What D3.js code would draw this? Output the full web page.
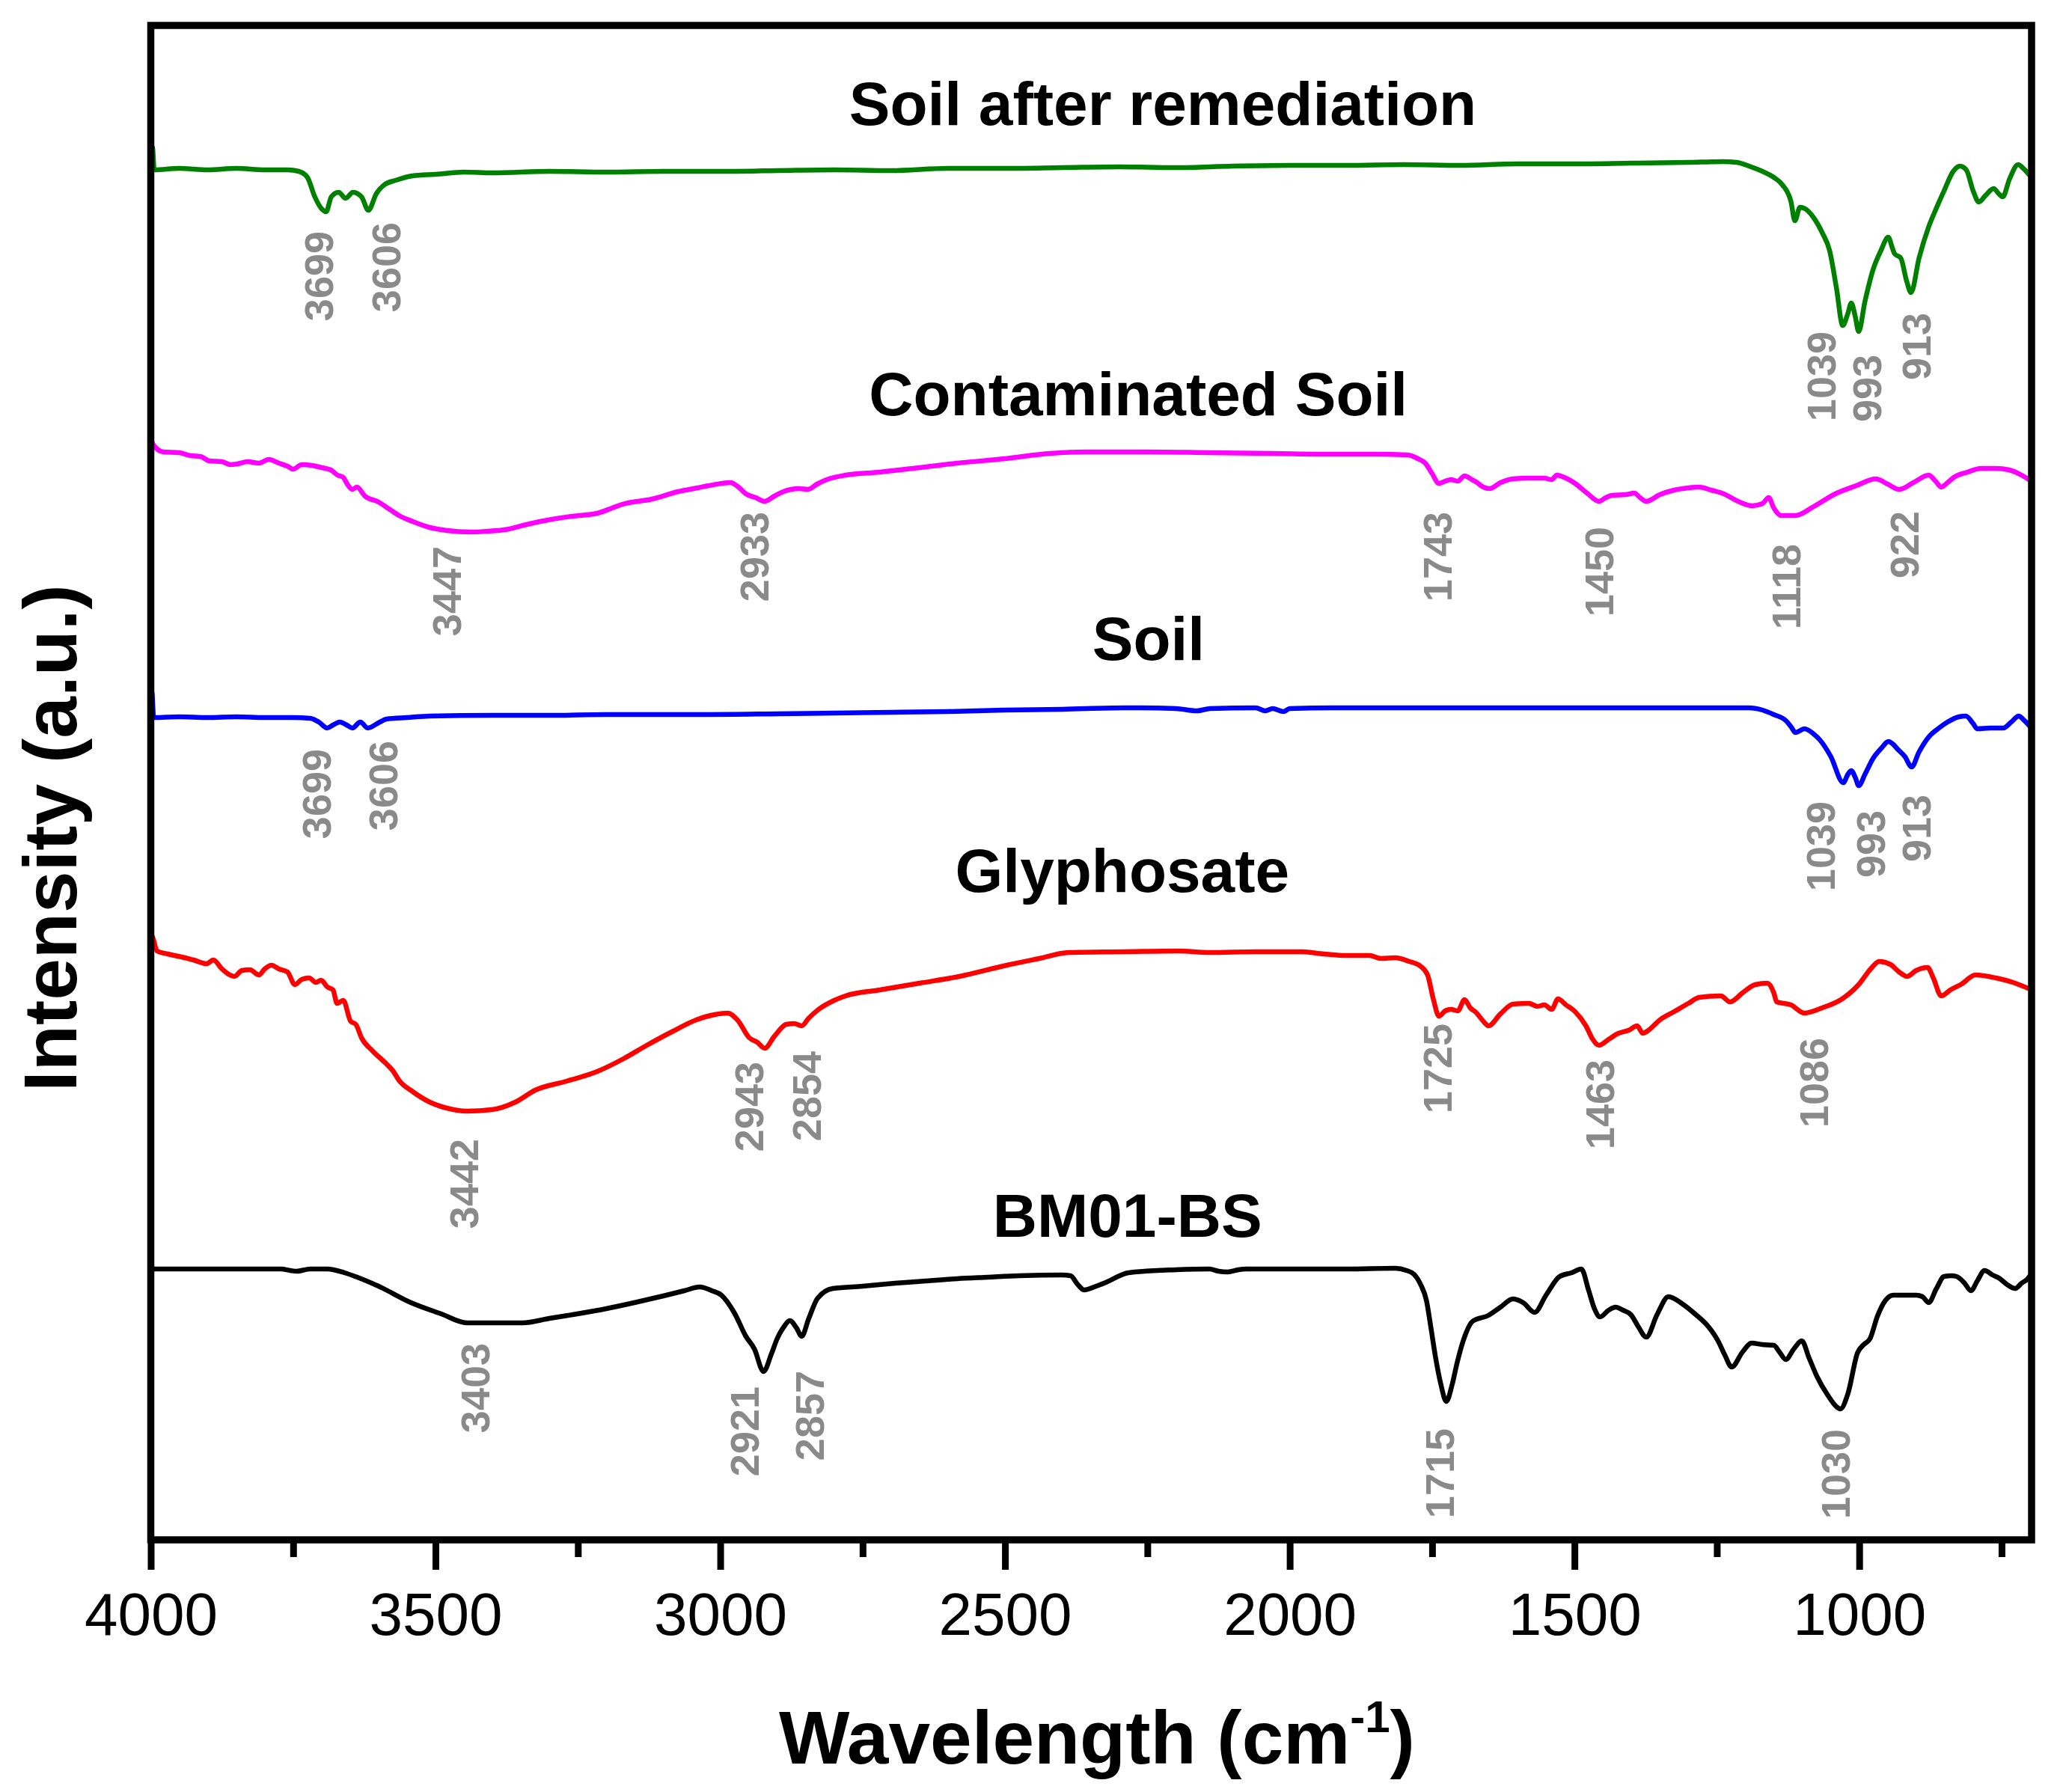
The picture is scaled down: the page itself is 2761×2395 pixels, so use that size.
<!DOCTYPE html>
<html>
<head>
<meta charset="utf-8">
<script src="https://cdn.jsdelivr.net/npm/d3@7.9.0/dist/d3.min.js"></script>
<style>
  body { margin: 0; background: #fff; }
  svg { display: block; }
  text { font-family: "Liberation Sans", Arial, sans-serif; }
</style>
</head>
<body>
<svg id="chart" width="2761" height="2395"></svg>
<script>
// FTIR spectra, [wavenumber, intensity a.u.]
const soilAfter = [[4000,91.5],[3997,92.9],[3994,91.4],[3950,91.5],[3900,91.4],[3850,91.5],[3800,91.4],[3760,91.4],[3740,91.3],[3725,90.9],[3712,89.6],[3700,88.8],[3692,88.6],[3683,89.6],[3670,89.9],[3658,89.5],[3645,89.9],[3630,89.6],[3618,88.7],[3604,89.8],[3590,90.4],[3570,90.7],[3540,91.0],[3500,91.1],[3450,91.25],[3400,91.2],[3300,91.3],[3200,91.25],[3100,91.3],[3000,91.3],[2900,91.35],[2800,91.4],[2700,91.35],[2600,91.5],[2500,91.5],[2400,91.55],[2300,91.6],[2200,91.55],[2100,91.65],[2000,91.7],[1900,91.7],[1800,91.75],[1700,91.7],[1600,91.8],[1500,91.8],[1400,91.85],[1300,91.9],[1240,91.95],[1215,91.9],[1190,91.6],[1170,91.3],[1150,90.9],[1135,90.4],[1120,89.3],[1113,88.0],[1104,88.9],[1095,88.8],[1080,88.2],[1065,87.2],[1052,86.0],[1040,83.5],[1029,81.0],[1020,81.8],[1014,82.5],[1007,81.6],[1001,80.6],[990,82.6],[976,84.7],[962,86.0],[949,86.9],[942,86.2],[938,85.8],[927,85.5],[917,84.0],[909,83.2],[895,85.5],[878,87.6],[865,88.8],[851,90.0],[835,91.3],[823,91.65],[812,91.4],[800,90.0],[790,89.25],[778,89.7],[764,90.15],[755,89.8],[748,89.6],[736,90.8],[721,91.75],[712,91.5],[700,91.0]];

const contaminated = [[4000,73.4],[3995,73.0],[3978,72.55],[3950,72.5],[3930,72.3],[3913,72.25],[3897,71.95],[3875,71.9],[3860,71.7],[3848,71.75],[3830,71.9],[3810,71.8],[3793,72.05],[3775,71.8],[3760,71.6],[3750,71.4],[3735,71.7],[3717,71.65],[3700,71.5],[3684,71.35],[3672,71.0],[3662,70.85],[3655,70.4],[3646,70.05],[3638,70.2],[3624,69.6],[3600,69.2],[3580,68.7],[3564,68.3],[3540,67.9],[3510,67.5],[3480,67.3],[3439,67.2],[3410,67.25],[3379,67.35],[3340,67.7],[3303,68.0],[3260,68.25],[3216,68.45],[3190,68.8],[3172,69.05],[3120,69.4],[3074,69.9],[3040,70.15],[3020,70.3],[2982,70.5],[2968,70.2],[2955,69.75],[2938,69.5],[2922,69.25],[2905,69.6],[2889,69.9],[2862,70.1],[2846,70.05],[2830,70.4],[2813,70.7],[2780,71.0],[2720,71.2],[2650,71.5],[2584,71.8],[2500,72.1],[2421,72.45],[2359,72.55],[2250,72.55],[2141,72.5],[2030,72.45],[1923,72.4],[1850,72.4],[1793,72.35],[1775,72.1],[1762,71.8],[1750,71.1],[1738,70.45],[1727,70.6],[1717,70.7],[1705,70.6],[1693,70.95],[1680,70.7],[1673,70.55],[1660,70.2],[1649,70.1],[1630,70.5],[1608,70.75],[1580,70.8],[1553,70.8],[1540,70.7],[1531,71.0],[1515,70.8],[1499,70.45],[1478,69.8],[1457,69.25],[1445,69.5],[1434,69.65],[1410,69.7],[1395,69.8],[1385,69.5],[1374,69.25],[1350,69.7],[1325,70.0],[1300,70.15],[1281,70.2],[1260,70.0],[1238,69.75],[1210,69.2],[1188,68.95],[1170,69.1],[1159,69.5],[1150,68.8],[1137,68.3],[1112,68.3],[1080,68.9],[1042,69.75],[1005,70.3],[971,70.75],[950,70.4],[930,70.05],[905,70.5],[878,71.0],[866,70.6],[856,70.2],[845,70.5],[834,70.85],[810,71.2],[786,71.45],[760,71.45],[737,71.35],[715,71.0],[700,70.65]];

const soil = [[4000,54.8],[3998,56.5],[3995,54.8],[3950,54.85],[3900,54.8],[3850,54.85],[3800,54.8],[3750,54.8],[3720,54.75],[3705,54.5],[3690,54.1],[3680,54.3],[3668,54.5],[3656,54.3],[3646,54.1],[3632,54.5],[3619,54.1],[3600,54.45],[3586,54.7],[3550,54.8],[3510,54.9],[3400,54.95],[3300,54.95],[3200,55.0],[3100,55.0],[3020,55.0],[2900,55.05],[2800,55.1],[2700,55.15],[2600,55.2],[2500,55.3],[2400,55.35],[2292,55.45],[2200,55.4],[2163,55.25],[2140,55.4],[2060,55.45],[2043,55.25],[2030,55.4],[2011,55.2],[2000,55.4],[1900,55.45],[1800,55.45],[1700,55.45],[1600,55.45],[1500,55.45],[1400,55.45],[1300,55.45],[1194,55.45],[1170,55.3],[1150,55.0],[1129,54.6],[1120,54.2],[1112,53.8],[1096,54.05],[1080,53.7],[1069,53.3],[1050,52.2],[1028,50.45],[1020,51.0],[1014,51.25],[1007,50.8],[1001,50.25],[990,51.0],[976,52.05],[960,52.8],[949,53.2],[940,53.0],[933,52.7],[920,52.2],[908,51.5],[895,52.5],[878,53.5],[860,54.1],[845,54.5],[825,54.85],[813,54.9],[800,54.4],[793,54.05],[770,54.1],[747,54.1],[733,54.5],[720,54.9],[710,54.6],[700,54.2]];

const glyphosate = [[4000,40.3],[3997,40.15],[3989,39.2],[3970,39.0],[3946,38.8],[3925,38.6],[3902,38.35],[3890,38.6],[3875,38.0],[3853,37.5],[3840,37.9],[3826,37.95],[3810,37.6],[3800,38.0],[3788,38.25],[3775,38.0],[3760,37.8],[3747,36.95],[3735,37.3],[3722,37.4],[3710,37.1],[3701,37.25],[3690,36.8],[3680,36.6],[3673,35.7],[3662,35.9],[3649,34.5],[3640,34.3],[3630,33.4],[3610,32.5],[3586,31.65],[3575,31.2],[3564,30.55],[3540,29.8],[3510,29.1],[3480,28.7],[3445,28.5],[3401,28.6],[3360,29.1],[3325,29.9],[3270,30.5],[3216,31.15],[3170,32.0],[3129,32.9],[3085,33.8],[3042,34.6],[3010,34.95],[2987,35.05],[2970,34.6],[2949,33.4],[2935,33.1],[2922,32.7],[2905,33.5],[2884,34.3],[2870,34.35],[2857,34.2],[2845,34.7],[2829,35.25],[2800,35.9],[2780,36.2],[2720,36.6],[2650,37.05],[2580,37.5],[2497,38.25],[2440,38.7],[2388,39.1],[2292,39.15],[2196,39.2],[2141,39.1],[2060,39.15],[1978,39.15],[1940,39.0],[1902,38.9],[1860,38.9],[1840,38.7],[1815,38.75],[1790,38.5],[1771,38.2],[1758,37.6],[1748,36.0],[1738,34.85],[1727,35.2],[1717,35.3],[1705,35.2],[1693,35.95],[1683,35.4],[1673,35.1],[1660,34.5],[1651,34.2],[1630,35.0],[1608,35.65],[1580,35.7],[1565,35.5],[1553,35.6],[1540,35.3],[1529,36.0],[1515,35.6],[1499,35.15],[1480,34.2],[1468,33.3],[1457,32.9],[1440,33.3],[1423,33.7],[1405,33.9],[1390,34.2],[1380,33.7],[1374,33.8],[1350,34.6],[1325,35.15],[1300,35.7],[1281,36.1],[1243,36.2],[1227,35.8],[1205,36.4],[1183,36.95],[1161,37.05],[1150,36.4],[1145,35.8],[1120,35.6],[1096,35.05],[1065,35.4],[1030,36.0],[1000,37.0],[980,38.0],[965,38.5],[945,38.3],[930,37.8],[916,37.5],[900,37.9],[880,38.1],[870,37.4],[856,36.2],[840,36.6],[820,37.0],[796,37.6],[760,37.4],[730,37.1],[700,36.65]];

const bm01 = [[4000,17.95],[3900,17.95],[3800,17.95],[3771,17.95],[3755,17.85],[3744,17.8],[3720,17.95],[3690,17.95],[3660,17.7],[3641,17.45],[3600,16.8],[3543,15.7],[3490,14.95],[3445,14.35],[3400,14.35],[3347,14.35],[3300,14.65],[3259,14.9],[3200,15.3],[3151,15.7],[3100,16.15],[3063,16.5],[3036,16.75],[3015,16.5],[2998,16.2],[2975,15.0],[2955,13.45],[2940,12.6],[2924,11.1],[2910,12.3],[2900,13.3],[2888,14.1],[2878,14.5],[2866,14.0],[2857,13.45],[2845,14.6],[2829,16.0],[2802,16.65],[2750,16.8],[2693,17.0],[2640,17.15],[2584,17.3],[2530,17.4],[2475,17.5],[2400,17.55],[2385,17.5],[2372,16.9],[2361,16.55],[2340,16.8],[2323,17.05],[2283,17.7],[2200,17.9],[2141,17.95],[2125,17.8],[2109,17.75],[2090,17.9],[2076,17.95],[2000,17.95],[1900,17.95],[1815,18.0],[1795,17.85],[1782,17.6],[1770,16.9],[1760,15.85],[1752,14.0],[1744,12.05],[1735,10.3],[1725,9.1],[1715,10.2],[1706,11.7],[1695,13.2],[1679,14.45],[1651,14.85],[1630,15.4],[1608,15.95],[1590,15.7],[1570,15.05],[1550,16.2],[1526,17.45],[1505,17.7],[1488,17.95],[1475,16.5],[1465,15.3],[1455,14.75],[1440,15.2],[1428,15.4],[1415,15.2],[1401,14.9],[1388,14.1],[1374,13.4],[1355,14.9],[1335,16.1],[1310,15.6],[1287,14.9],[1265,14.1],[1248,13.15],[1236,12.2],[1224,11.4],[1205,12.4],[1189,13.0],[1170,12.9],[1150,12.85],[1140,12.4],[1129,11.9],[1115,12.6],[1101,13.15],[1088,12.0],[1074,10.75],[1055,9.5],[1040,8.75],[1033,8.6],[1020,9.6],[1003,12.35],[992,12.9],[981,13.3],[968,14.8],[954,15.85],[940,16.2],[920,16.2],[900,16.2],[889,16.1],[878,15.7],[865,16.6],[851,17.45],[838,17.5],[829,17.45],[815,17.0],[804,16.5],[792,17.2],[780,17.85],[766,17.55],[753,17.3],[740,16.9],[726,16.65],[715,17.0],[704,17.3],[700,17.5]];

const seriesData = [soilAfter, contaminated, soil, glyphosate, bm01];
const seriesColors = ['#008000', '#ff00ff', '#0000ff', '#ff0000', '#000000'];

// series names: [text, wavenumber at centre, intensity at baseline]
const seriesNames = [
  ['Soil after remediation', 2223, 94.4],
  ['Contaminated Soil', 2266, 75.0],
  ['Soil', 2248, 58.65],
  ['Glyphosate', 2294, 43.15],
  ['BM01-BS', 2285, 20.1]
];

// peak labels: [text, wavenumber of label, intensity at top of label]
const peakLabels = [
  ['3699', 3705, 87.3], ['3606', 3588, 87.9], ['1039', 1067, 80.6], ['993', 987, 79.05], ['913', 900, 81.85],
  ['3447', 3481, 66.25], ['2933', 2941, 68.55], ['1743', 1741, 68.55], ['1450', 1457, 67.55], ['1118', 1129, 66.4], ['922', 921, 68.6],
  ['3699', 3710, 52.7], ['3606', 3593, 53.25], ['1039', 1068, 49.2], ['993', 981, 48.6], ['913', 900, 49.65],
  ['3442', 3451, 26.65], ['2943', 2950, 31.8], ['2854', 2849, 32.5], ['1725', 1741, 34.35], ['1463', 1456, 31.95], ['1086', 1080, 33.4],
  ['3403', 3431, 13.0], ['2921', 2958, 10.1], ['2857', 2844, 11.15], ['1715', 1737, 7.3], ['1030', 1042, 7.25]
];

const majorTicks = [4000, 3500, 3000, 2500, 2000, 1500, 1000];
const minorTicks = [3750, 3250, 2750, 2250, 1750, 1250, 750];

const svg = d3.select('#chart');
const frameL = 201.5, frameR = 2715, frameT = 34, frameB = 2058;

const x = d3.scaleLinear().domain([4000, 700]).range([frameL, 2713]);
const y = d3.scaleLinear().domain([0, 101]).range([2055, 35]);

const line = d3.line()
  .x((d) => x(d[0]))
  .y((d) => y(d[1]))
  .curve(d3.curveMonotoneX);

seriesData.forEach((s, idx) => {
  svg.append('path')
    .attr('d', line(s))
    .attr('fill', 'none')
    .attr('stroke', seriesColors[idx])
    .attr('stroke-width', 6.5)
    .attr('stroke-linejoin', 'round')
    .attr('stroke-linecap', 'round');
});

// frame
svg.append('rect')
  .attr('x', frameL).attr('y', frameT)
  .attr('width', frameR - frameL).attr('height', frameB - frameT)
  .attr('fill', 'none').attr('stroke', '#000').attr('stroke-width', 9.5);

// x axis, major and minor ticks
const gMajor = svg.append('g')
  .attr('transform', `translate(0,${frameB})`)
  .call(d3.axisBottom(x).tickValues(majorTicks).tickSize(40).tickSizeOuter(0).tickFormat(d3.format('d')));
gMajor.select('.domain').remove();
gMajor.selectAll('line').attr('stroke', '#000').attr('stroke-width', 9);
gMajor.selectAll('text')
  .attr('y', 127).attr('dy', null)
  .attr('fill', '#000')
  .style('font-size', '80px')
  .style('font-family', '"Liberation Sans", Arial, sans-serif');

const gMinor = svg.append('g')
  .attr('transform', `translate(0,${frameB})`)
  .call(d3.axisBottom(x).tickValues(minorTicks).tickSize(23).tickSizeOuter(0).tickFormat(''));
gMinor.select('.domain').remove();
gMinor.selectAll('line').attr('stroke', '#000').attr('stroke-width', 9);

// series names
svg.selectAll('.sname')
  .data(seriesNames)
  .join('text')
  .attr('class', 'sname')
  .attr('x', (d) => x(d[1]))
  .attr('y', (d) => y(d[2]))
  .attr('text-anchor', 'middle')
  .attr('font-weight', 'bold')
  .attr('font-size', 82)
  .attr('fill', '#000')
  .text((d) => d[0]);

// peak labels, rotated
svg.selectAll('.peak')
  .data(peakLabels)
  .join('text')
  .attr('class', 'peak')
  .attr('transform', (d) => `translate(${x(d[1])},${y(d[2])}) rotate(-90)`)
  .attr('text-anchor', 'end')
  .attr('dy', '0.36em')
  .attr('font-weight', 'bold')
  .attr('font-size', 54)
  .attr('fill', '#8a8a8a')
  .text((d) => d[0]);

// axis titles
svg.append('text')
  .attr('transform', 'translate(66,1120) rotate(-90)')
  .attr('text-anchor', 'middle')
  .attr('dy', '0.36em')
  .attr('font-weight', 'bold')
  .attr('font-size', 100)
  .text('Intensity (a.u.)');

const xt = svg.append('text')
  .attr('x', 1466).attr('y', 2357)
  .attr('text-anchor', 'middle')
  .attr('font-weight', 'bold')
  .attr('font-size', 100);
xt.append('tspan').text('Wavelength (cm');
xt.append('tspan').attr('dy', -42).attr('font-size', 60).text('-1');
xt.append('tspan').attr('dy', 42).text(')');
</script>
</body>
</html>
